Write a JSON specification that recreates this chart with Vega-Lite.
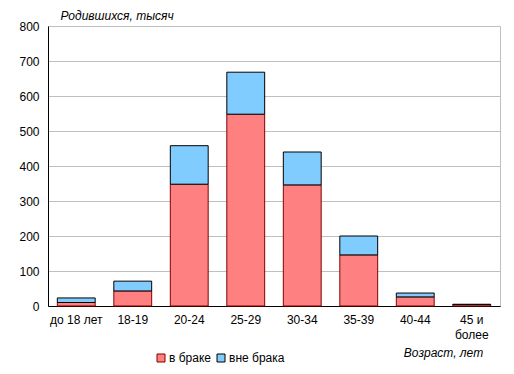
{
  "$schema": "https://vega.github.io/schema/vega-lite/v6.json",
  "width": 452,
  "height": 280,
  "autosize": {"type": "none"},
  "padding": {"left": 48, "top": 26, "right": 14, "bottom": 68},
  "background": "white",
  "config": {
    "font": "Liberation Sans",
    "view": {"stroke": "#BFBFBF", "strokeWidth": 1},
    "axis": {"labelFont": "Liberation Sans", "titleFont": "Liberation Sans", "labelColor": "black", "titleColor": "black", "labelFontSize": 12, "titleFontSize": 12, "titleFontWeight": "normal"},
    "legend": {"labelFont": "Liberation Sans", "labelFontSize": 12, "labelColor": "black"}
  },
  "data": {
    "values": [
      {"age": "до 18 лет", "type": "в браке", "value": 10},
      {"age": "до 18 лет", "type": "вне брака", "value": 13},
      {"age": "18-19", "type": "в браке", "value": 43},
      {"age": "18-19", "type": "вне брака", "value": 28},
      {"age": "20-24", "type": "в браке", "value": 348},
      {"age": "20-24", "type": "вне брака", "value": 110},
      {"age": "25-29", "type": "в браке", "value": 548},
      {"age": "25-29", "type": "вне брака", "value": 120},
      {"age": "30-34", "type": "в браке", "value": 346},
      {"age": "30-34", "type": "вне брака", "value": 94},
      {"age": "35-39", "type": "в браке", "value": 146},
      {"age": "35-39", "type": "вне брака", "value": 54},
      {"age": "40-44", "type": "в браке", "value": 26},
      {"age": "40-44", "type": "вне брака", "value": 11},
      {"age": "45 и более", "type": "в браке", "value": 4},
      {"age": "45 и более", "type": "вне брака", "value": 1}
    ]
  },
  "mark": {"type": "bar", "strokeWidth": 1},
  "encoding": {
    "x": {
      "field": "age",
      "type": "nominal",
      "sort": null,
      "scale": {"paddingInner": 0.33, "paddingOuter": 0.165},
      "axis": {
        "title": "Возраст, лет",
        "titleFontStyle": "italic",
        "titleX": 395,
        "titleY": 46,
        "titleAlign": "center",
        "titleBaseline": "middle",
        "labelAngle": 0,
        "ticks": false,
        "labelPadding": 8,
        "domainColor": "black",
        "domainWidth": 1,
        "grid": false,
        "labelExpr": "datum.value == '45 и более' ? ['45 и', 'более'] : datum.value",
        "labelLineHeight": 15
      }
    },
    "y": {
      "field": "value",
      "type": "quantitative",
      "aggregate": "sum",
      "stack": "zero",
      "scale": {"domain": [0, 800], "nice": false},
      "axis": {
        "title": "Родившихся, тысяч",
        "titleFontStyle": "italic",
        "titleAngle": 0,
        "titleX": 12,
        "titleY": -11,
        "titleAlign": "left",
        "titleBaseline": "middle",
        "values": [0, 100, 200, 300, 400, 500, 600, 700, 800],
        "ticks": false,
        "labelPadding": 9,
        "domainColor": "black",
        "domainWidth": 1,
        "gridColor": "#BFBFBF",
        "gridWidth": 1
      }
    },
    "color": {
      "field": "type",
      "type": "nominal",
      "scale": {"domain": ["в браке", "вне брака"], "range": ["#FF8080", "#80CCFF"]},
      "legend": {
        "title": null,
        "orient": "none",
        "direction": "horizontal",
        "legendX": 107,
        "legendY": 326,
        "symbolType": "square",
        "symbolSize": 64,
        "symbolStrokeWidth": 1,
        "columnPadding": 4,
        "labelOffset": 2
      }
    },
    "stroke": {
      "field": "type",
      "type": "nominal",
      "scale": {"domain": ["в браке", "вне брака"], "range": ["#800000", "#000000"]}
    },
    "order": {"field": "type", "sort": "ascending"}
  }
}
